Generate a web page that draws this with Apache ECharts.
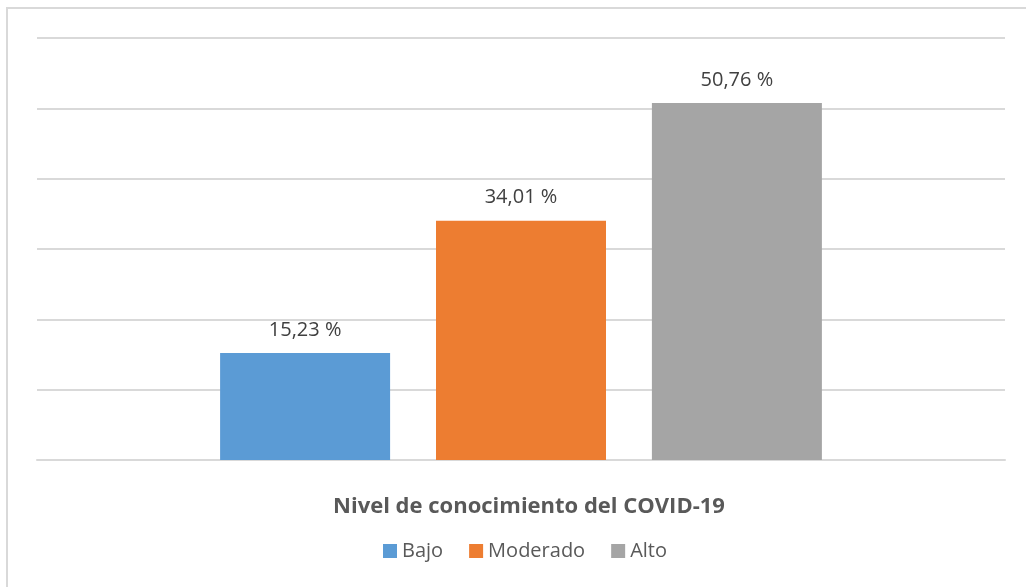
<!DOCTYPE html>
<html>
<head>
<meta charset="utf-8">
<script src="https://cdn.jsdelivr.net/npm/echarts@6/dist/echarts.min.js"></script>
<style>
  html, body { margin: 0; padding: 0; background: #fff; }
  #chart { width: 1026px; height: 587px; }
</style>
</head>
<body>
<div id="chart"></div>
<script>
const categories = ['Nivel de conocimiento del COVID-19']
const seriesNames = ['Bajo', 'Moderado', 'Alto']
const seriesValues = [[15.23], [34.01], [50.76]]
const seriesColors = ['#5b9bd5', '#ed7d31', '#a5a5a5']

const fontFamily = '"Open Sans", "Noto Sans", sans-serif'

const chart = echarts.init(document.getElementById('chart'))

chart.setOption({
  animation: false,
  backgroundColor: '#fff',
  graphic: [{
    type: 'rect',
    shape: { x: 7, y: 8, width: 1100, height: 700 },
    style: { fill: 'none', stroke: '#d9d9d9', lineWidth: 2 },
    silent: true
  }],
  title: {
    text: categories[0],
    left: 524,
    textAlign: 'center',
    top: 491,
    textStyle: { fontFamily, fontSize: 22, fontWeight: 'bold', color: '#595959' }
  },
  legend: {
    data: seriesNames,
    bottom: 21,
    left: 378,
    icon: 'rect',
    itemWidth: 14,
    itemHeight: 14,
    itemGap: 26,
    textStyle: { fontFamily, fontSize: 20, color: '#595959' }
  },
  grid: {
    left: 37,
    right: 21,
    top: 38,
    bottom: 127,
    containLabel: false
  },
  xAxis: {
    type: 'category',
    data: categories,
    axisLine: { lineStyle: { color: '#d9d9d9', width: 2 } },
    axisTick: { show: false },
    axisLabel: { show: false }
  },
  yAxis: {
    type: 'value',
    min: 0,
    max: 60,
    interval: 10,
    axisLabel: { show: false },
    axisLine: { show: false },
    axisTick: { show: false },
    splitLine: { lineStyle: { color: '#d9d9d9', width: 2 } }
  },
  series: seriesNames.map((name, i) => ({
    name,
    type: 'bar',
    data: seriesValues[i],
    barWidth: 170,
    barGap: '27%',
    itemStyle: { color: seriesColors[i] },
    label: {
      show: true,
      position: 'top',
      distance: 13,
      fontFamily,
      fontSize: 20,
      color: '#404040',
      formatter: p => p.value.toFixed(2).replace('.', ',') + ' %'
    }
  }))
})
</script>
</body>
</html>
